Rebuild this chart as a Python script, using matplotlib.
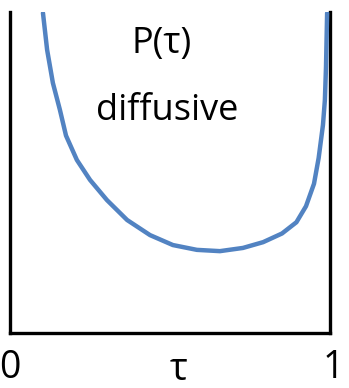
"""
U-shaped P(tau) sketch, diffusive case
"""
import matplotlib
matplotlib.use('Agg')
import matplotlib.pyplot as plt

# curve (tau, P)
tau = [0.103, 0.116, 0.134, 0.156, 0.175, 0.209, 0.250, 0.303, 0.366,
       0.4375, 0.509, 0.584, 0.656, 0.728, 0.791, 0.850, 0.895, 0.925, 0.950, 0.9645,
       0.978, 0.984, 0.9875, 0.991]
p_tau = [0.997, 0.882, 0.779, 0.695, 0.615, 0.539, 0.477, 0.414, 0.352,
         0.305, 0.274, 0.259, 0.255, 0.265, 0.283, 0.310, 0.345, 0.395, 0.465, 0.545,
         0.648, 0.726, 0.829, 0.997]

tick_labels = ['0', '1']
x_label = 'τ'
title_lines = ['P(τ)', 'diffusive']

W, H = 349, 388
fonts = ['Open Sans', 'DejaVu Sans']

fig = plt.figure(figsize=(W / 100, H / 100), dpi=100)
ax = fig.add_axes([10 / W, 1 - 333 / H, 320 / W, 321 / H])

ax.plot(tau, p_tau, color='#5283c2', linewidth=3.2, solid_capstyle='round',
        solid_joinstyle='round', zorder=3)
ax.set_xlim(0, 1)
ax.set_ylim(0, 1)

for s in ['left', 'right', 'bottom']:
    ax.spines[s].set_linewidth(2.4)
    ax.spines[s].set_color('black')
ax.spines['top'].set_visible(False)
ax.set_xticks([])
ax.set_yticks([])

# labels under the axis
fig.text(10 / W, 1 - 368 / H, tick_labels[0], ha='center', va='center', fontsize=27, family=fonts)
fig.text(333 / W, 1 - 368 / H, tick_labels[1], ha='center', va='center', fontsize=27, family=fonts)
fig.text(178 / W, 1 - 370 / H, x_label, ha='center', va='center', fontsize=27, family=fonts)

fig.text(162 / W, 1 - 44 / H, title_lines[0], ha='center', va='center', fontsize=26, family=fonts)
fig.text(167 / W, 1 - 111 / H, title_lines[1], ha='center', va='center', fontsize=26, family=fonts)

plt.savefig('out.png', dpi=100)
plt.close()
